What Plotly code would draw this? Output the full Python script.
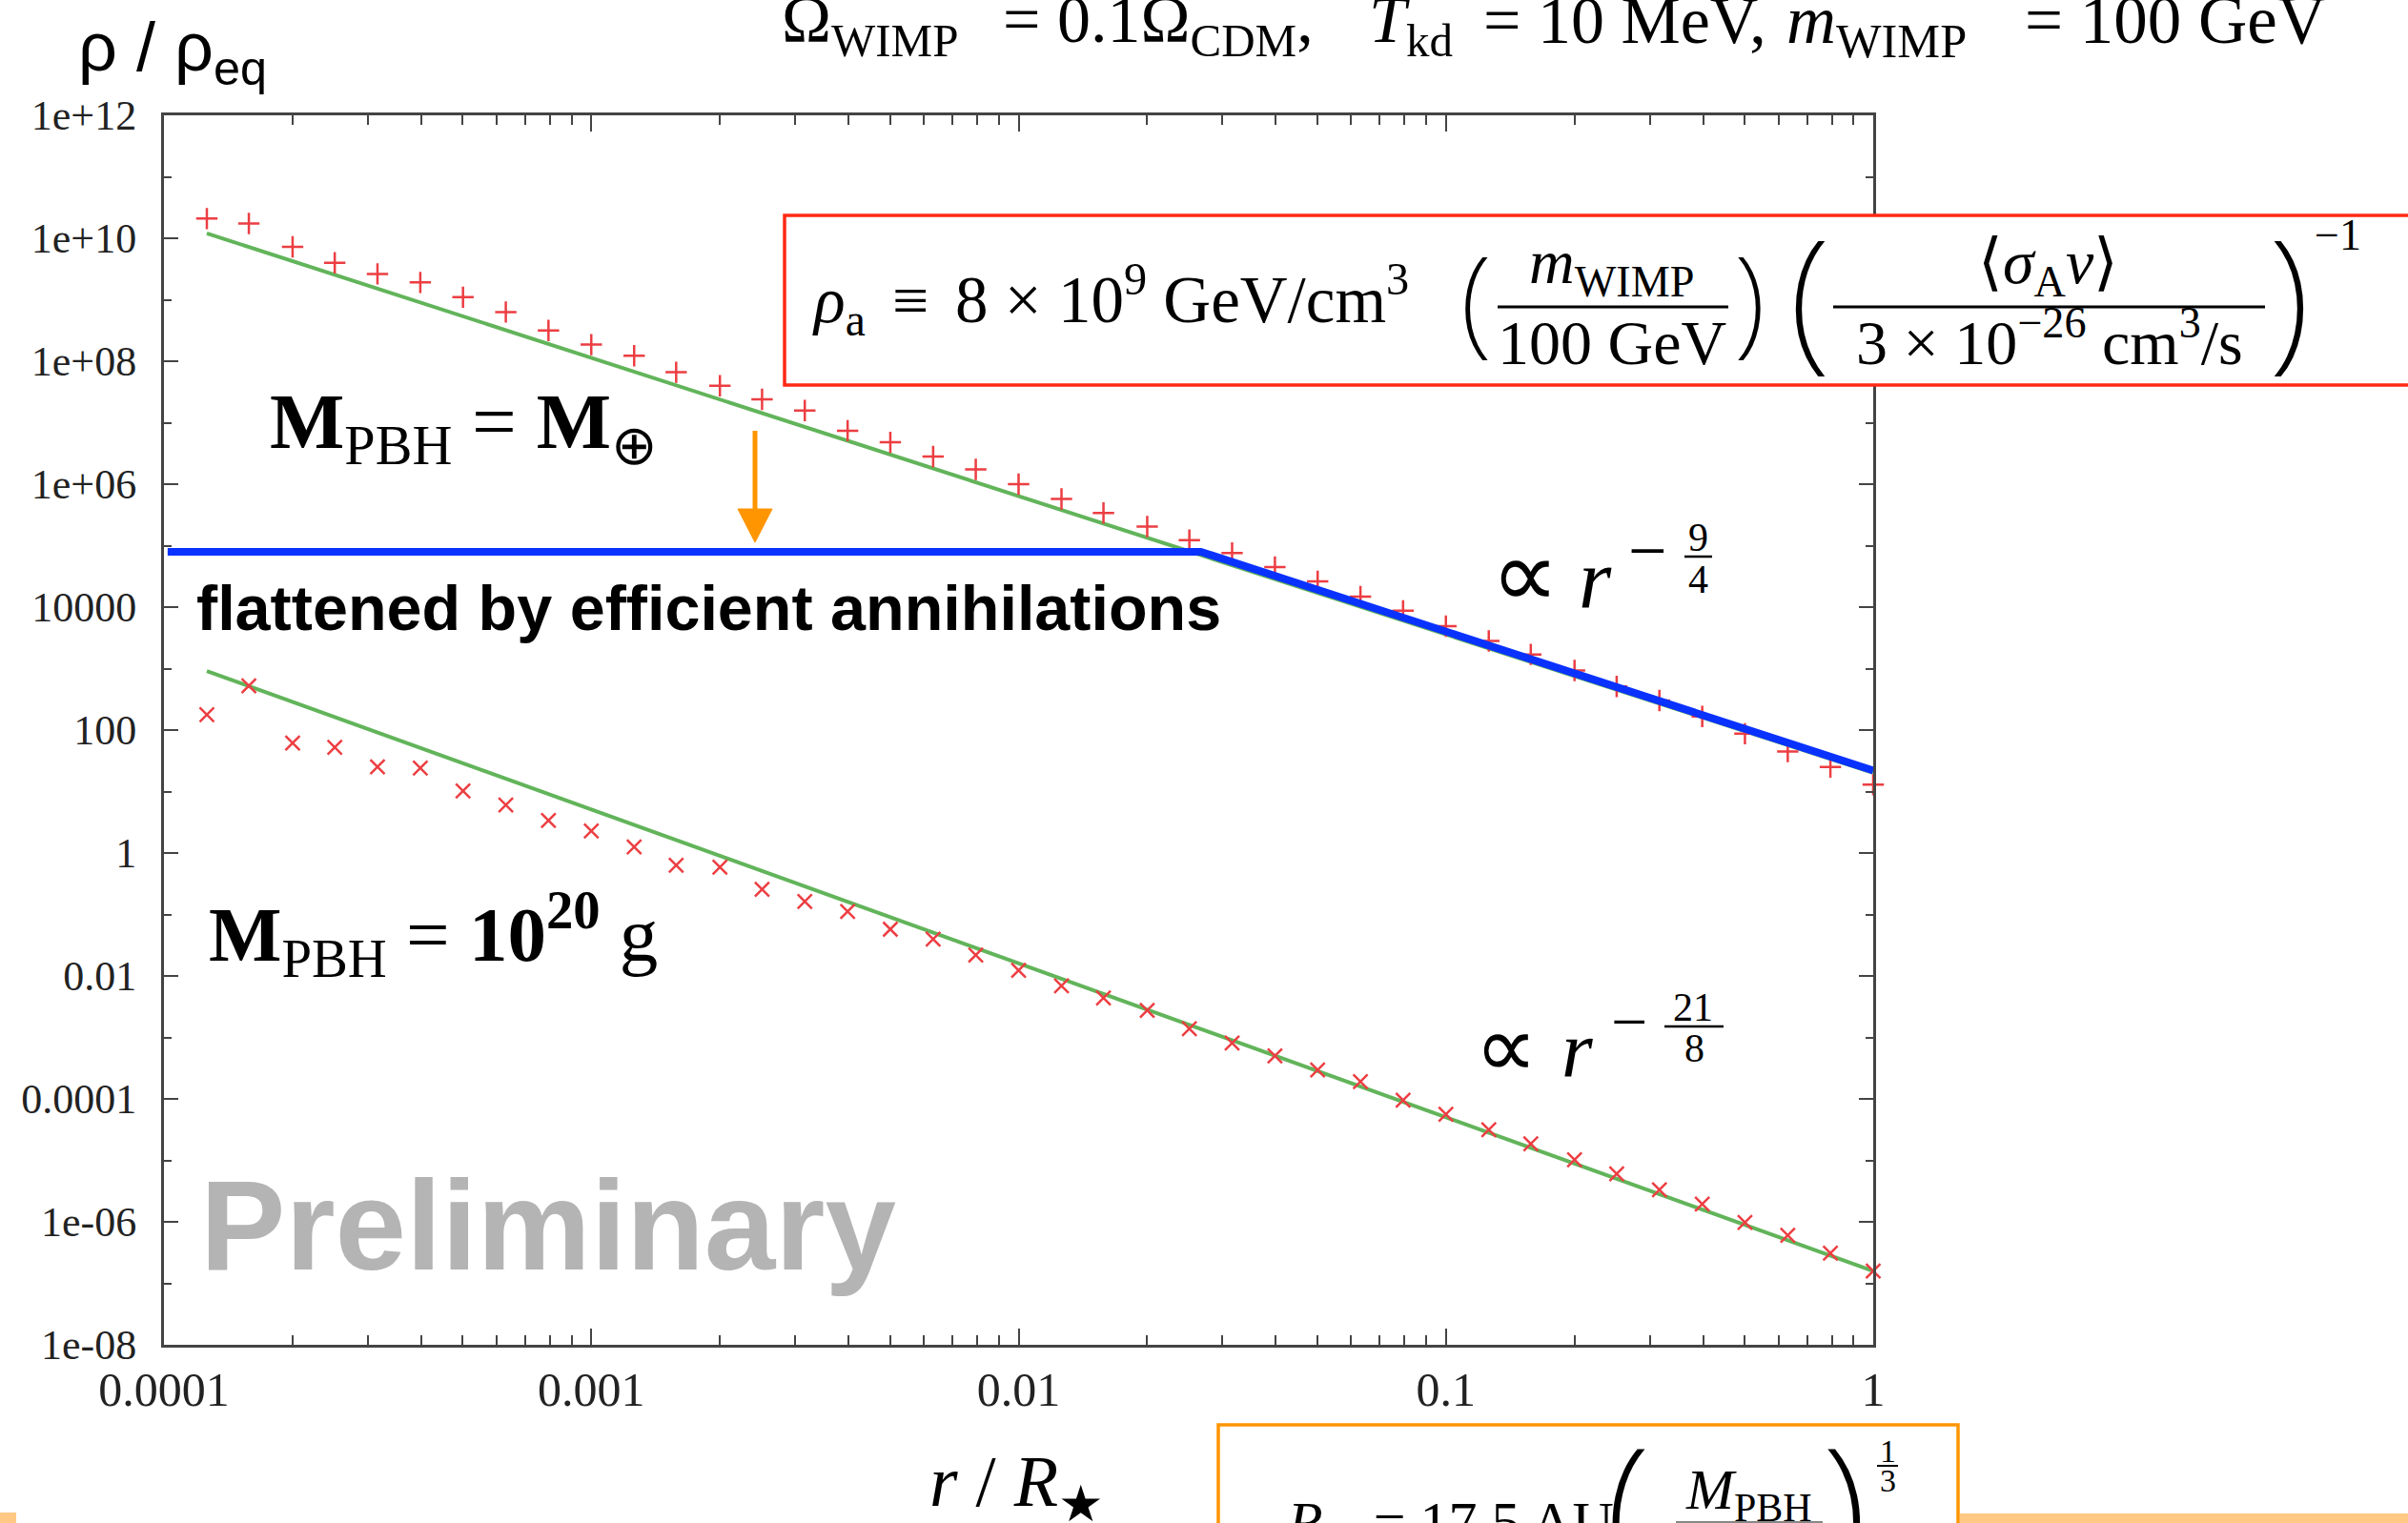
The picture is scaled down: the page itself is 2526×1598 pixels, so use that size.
import plotly.graph_objects as go

# ---------------- data ----------------
r_over_Rstar = [1.26e-4, 1.58e-4, 2.00e-4, 2.51e-4, 3.16e-4, 3.98e-4, 5.01e-4, 6.31e-4, 7.94e-4, 1.00e-3,
                1.26e-3, 1.58e-3, 2.00e-3, 2.51e-3, 3.16e-3, 3.98e-3, 5.01e-3, 6.31e-3, 7.94e-3, 1.00e-2,
                1.26e-2, 1.58e-2, 2.00e-2, 2.51e-2, 3.16e-2, 3.98e-2, 5.01e-2, 6.31e-2, 7.94e-2, 1.00e-1,
                0.126, 0.158, 0.200, 0.251, 0.316, 0.398, 0.501, 0.631, 0.794, 1.00]

# M_PBH = M_earth  ("+" markers)
rho_M_earth = [2.09e10, 1.74e10, 7.24e9, 3.98e9, 2.63e9, 1.91e9, 1.10e9, 6.31e8, 3.16e8, 1.86e8,
               1.23e8, 6.61e7, 3.98e7, 2.40e7, 1.58e7, 7.41e6, 4.79e6, 2.82e6, 1.74e6, 1.00e6,
               5.75e5, 3.39e5, 2.04e5, 1.23e5, 7.59e4, 4.47e4, 2.63e4, 1.48e4, 8.71e3, 4.90e3,
               2.82e3, 1.70e3, 933.0, 513.0, 302.0, 166.0, 87.1, 44.7, 25.1, 12.9]

# M_PBH = 1e20 g  ("x" markers)
rho_1e20g = [178.0, 525.0, 61.7, 52.5, 25.1, 24.0, 10.2, 6.03, 3.39, 2.29,
             1.26, 0.631, 0.589, 0.257, 0.162, 0.112, 0.0575, 0.0398, 0.0219, 0.0123,
             6.92e-3, 4.37e-3, 2.75e-3, 1.38e-3, 8.13e-4, 5.01e-4, 2.95e-4, 1.91e-4, 9.55e-5, 5.62e-5,
             3.16e-5, 1.86e-5, 1.02e-5, 6.03e-6, 3.31e-6, 1.95e-6, 9.77e-7, 6.03e-7, 3.09e-7, 1.58e-7]

# power-law fits (green lines)
fit_r = [1.26e-4, 1.0]
fit_M_earth = [1.20e10, 20.2]
fit_1e20g = [912.0, 1.58e-7]

# flattened profile (blue line)
flat_r = [1.02e-4, 0.0267, 1.0]
flat_rho = [7.94e4, 7.94e4, 21.9]

# axes
x_ticks = [1e-4, 1e-3, 1e-2, 1e-1, 1.0]
x_tick_labels = ["0.0001", "0.001", "0.01", "0.1", "1"]
x_minor = [m * d for d in (1e-4, 1e-3, 1e-2, 1e-1) for m in range(2, 10)]
y_ticks = [1e12, 1e10, 1e8, 1e6, 1e4, 1e2, 1.0, 1e-2, 1e-4, 1e-6, 1e-8]
y_tick_labels = ["1e+12", "1e+10", "1e+08", "1e+06", "10000", "100", "1",
                 "0.01", "0.0001", "1e-06", "1e-08"]
y_minor = [1e11, 1e9, 1e7, 1e5, 1e3, 10.0, 0.1, 1e-3, 1e-5, 1e-7]

# ---------------- styling ----------------
W, H = 2526, 1598
L, R, T, B = 172, 1965, 121, 1411
SERIF = "Liberation Serif"
SANS = "Liberation Sans"
THIN = "Noto Sans"
AX = "#444444"
GREEN = "#62b45a"
RED = "rgb(236,62,66)"
BLUE = "#0a32ff"
ORANGE = "#ff9500"
BOXRED = "#ff2a14"


def PX(x):
    return (x - L) / (R - L)


def PY(y):
    return (B - y) / (B - T)


anns = []
shapes = []


def label(text, x, cy, size, family=SERIF, color="#000", xanchor="left", weight=None):
    font = dict(family=family, size=size, color=color)
    if weight is not None:
        font["weight"] = weight
    anns.append(dict(text=text, x=PX(x), y=PY(cy), xref="paper", yref="paper",
                     showarrow=False, xanchor=xanchor, yanchor="middle",
                     borderpad=0, borderwidth=0, font=font))


def on_base(text, x, base, size, family=SERIF, xanchor="left", sub=False, sup=False,
            color="#000", weight=None):
    asc, desc = (0.891, 0.216) if family == SERIF else (0.905, 0.212)
    top = max(asc, (0.42 + 0.7 * asc) if sup else 0) * size
    bot = max(desc, (0.21 + 0.7 * desc) if sub else 0) * size
    label(text, x, base + (bot - top) / 2, size, family, color, xanchor, weight)


def paren(ch, xc, gc, size):
    # thin parenthesis glyph whose visual centre sits at (xc, gc)
    label(ch, xc, gc - 0.098 * size, size, THIN, "#000", "center", weight=200)


def minus(xc, gc, size):
    label("−", xc, gc - 0.0875 * size, size, SERIF, "#000", "center")


def hline(x0, x1, y, color="#000", width=3):
    shapes.append(dict(type="line", xref="paper", yref="paper", x0=PX(x0), x1=PX(x1),
                       y0=PY(y), y1=PY(y), line=dict(color=color, width=width), layer="above"))


# ---------------- figure ----------------
fig = go.Figure()
fig.add_trace(go.Scatter(x=fit_r, y=fit_M_earth, mode="lines", line=dict(color=GREEN, width=4)))
fig.add_trace(go.Scatter(x=fit_r, y=fit_1e20g, mode="lines", line=dict(color=GREEN, width=4)))
fig.add_trace(go.Scatter(x=r_over_Rstar, y=rho_M_earth, mode="markers", cliponaxis=False,
                         marker=dict(symbol="cross-thin", size=16, line=dict(color=RED, width=2.5))))
fig.add_trace(go.Scatter(x=r_over_Rstar, y=rho_1e20g, mode="markers", cliponaxis=False,
                         marker=dict(symbol="x-thin", size=15, line=dict(color=RED, width=2.5))))
fig.add_trace(go.Scatter(x=flat_r, y=flat_rho, mode="lines", line=dict(color=BLUE, width=8)))

# ---- text annotations ----
# y-axis title
on_base("ρ / ρ<sub>eq</sub>", 82, 74, 72, family=SANS, sub=True)
# x-axis title
on_base("<i>r</i> / <i>R</i><sub>★</sub>", 975, 1580, 76, sub=True)

# top line
on_base("Ω<sub>WIMP</sub>", 820, 45, 70, sub=True)
on_base("= 0.1Ω<sub>CDM</sub>,", 1052, 45, 70, sub=True)
on_base("<i>T</i><sub>kd</sub>", 1436, 45, 70, sub=True)
on_base("= 10 MeV,", 1556, 45, 70)
on_base("<i>m</i><sub>WIMP</sub>", 1874, 45, 72, sub=True)
on_base("= 100 GeV", 2124, 45, 71)

# red formula box
shapes.append(dict(type="rect", xref="paper", yref="paper", x0=PX(823), x1=PX(2600),
                   y0=PY(226), y1=PY(404), line=dict(color=BOXRED, width=3.5),
                   fillcolor="white", layer="above"))
on_base("<i>ρ</i><sub>a</sub>", 852, 338, 68, sub=True)
on_base("≡", 936, 338, 68)
on_base("8 × 10<sup>9</sup> GeV/cm<sup>3</sup>", 1002, 338, 69, sup=True)
paren("(", 1548, 322, 124)
on_base("<i>m</i><sub>WIMP</sub>", 1690, 297, 66, xanchor="center", sub=True)
hline(1571, 1813, 322)
on_base("100 GeV", 1691, 382, 66, xanchor="center")
paren(")", 1835, 322, 124)
paren("(", 1898, 322, 162)
on_base("⟨<i>σ</i><sub>A</sub><i>v</i>⟩", 2148, 297, 66, xanchor="center", sub=True)
hline(1923, 2376, 322)
on_base("3 × 10<sup>−26</sup> cm<sup>3</sup>/s", 2150, 382, 66, xanchor="center", sup=True)
paren(")", 2401, 322, 162)
on_base("−1", 2428, 262, 46)

# M_PBH = M_earth
on_base("<b>M</b><sub>PBH</sub> = <b>M</b><sub>⊕</sub>", 283, 470, 83, sub=True)
# orange arrow
shapes.append(dict(type="line", xref="paper", yref="paper", x0=PX(792), x1=PX(792),
                   y0=PY(452), y1=PY(540), line=dict(color=ORANGE, width=5), layer="above"))
shapes.append(dict(type="path", xref="paper", yref="paper",
                   path=f"M {PX(774)} {PY(534)} L {PX(810)} {PY(534)} L {PX(792)} {PY(569)} Z",
                   fillcolor=ORANGE, line=dict(color=ORANGE, width=1), layer="above"))

# flattened text
on_base("flattened by efficient annihilations", 206, 661, 66.5, family=SANS, weight="bold")

# slope labels
on_base("∝", 1564, 637, 100)
on_base("<i>r</i>", 1656, 637, 88)
minus(1728, 584, 72)
label("9", 1781, 564, 42, xanchor="center")
label("4", 1781, 608, 42, xanchor="center")
hline(1767, 1796, 584, width=2.5)

on_base("∝", 1547, 1130, 92)
on_base("<i>r</i>", 1638, 1130, 84)
minus(1709, 1078, 68)
label("21", 1776, 1057, 42, xanchor="center")
label("8", 1777, 1100, 42, xanchor="center")
hline(1746, 1808, 1077, width=2.5)

# M_PBH = 1e20 g
on_base("<b>M</b><sub>PBH</sub> = <b>10<sup>20</sup></b> g", 219, 1008, 81, sub=True, sup=True)

# Preliminary watermark
on_base("Preliminary", 210, 1332, 134, family=SANS, color="#b4b4b4", weight="bold")

# orange box at the bottom (cut by the page edge)
shapes.append(dict(type="rect", xref="paper", yref="paper", x0=PX(1278), x1=PX(2054),
                   y0=PY(1495), y1=PY(1660), line=dict(color=ORANGE, width=3.5),
                   fillcolor="white", layer="above"))
on_base("<i>R</i><sub>★</sub> = 17.5 AU", 1350, 1617, 60, sub=True)
paren("(", 1708, 1597, 180)
on_base("<i>M</i><sub>PBH</sub>", 1834, 1583, 60, xanchor="center", sub=True)
hline(1758, 1912, 1597, color="#888", width=2)
paren(")", 1935, 1597, 180)
label("1", 1980, 1522, 34, xanchor="center")
hline(1969, 1991, 1538, width=2)
label("3", 1980, 1553, 34, xanchor="center")

# slide footer decorations
shapes.append(dict(type="rect", xref="paper", yref="paper", x0=PX(2056), x1=PX(2530),
                   y0=PY(1588), y1=PY(1602), line=dict(width=0), fillcolor="#ffc985", layer="above"))
shapes.append(dict(type="rect", xref="paper", yref="paper", x0=PX(-5), x1=PX(17),
                   y0=PY(1587), y1=PY(1602), line=dict(width=0), fillcolor="#ffc985", layer="above"))

axis_common = dict(type="log", ticks="inside", tickwidth=2, tickcolor=AX, showline=True,
                   linewidth=3, linecolor=AX, mirror="ticks", showgrid=False, zeroline=False,
                   automargin=False)

fig.update_layout(
    template="none",
    width=W, height=H,
    margin=dict(l=L, r=W - R, t=T, b=H - B, pad=0, autoexpand=False),
    paper_bgcolor="white", plot_bgcolor="white",
    showlegend=False,
    xaxis=dict(range=[-4, 0], tickmode="array", tickvals=x_ticks, ticktext=x_tick_labels,
               ticklen=17, tickfont=dict(family=SERIF, size=50, color="#222"),
               ticklabelstandoff=1,
               minor=dict(tickmode="array", tickvals=x_minor, ticks="inside", ticklen=10,
                          tickwidth=2, tickcolor=AX, showgrid=False),
               **axis_common),
    yaxis=dict(range=[-8, 12], tickmode="array", tickvals=y_ticks, ticktext=y_tick_labels,
               ticklen=15, tickfont=dict(family=SERIF, size=44, color="#222"),
               ticklabelstandoff=17,
               minor=dict(tickmode="array", tickvals=y_minor, ticks="inside", ticklen=8,
                          tickwidth=2, tickcolor=AX, showgrid=False),
               **axis_common),
    annotations=anns,
    shapes=shapes,
)

fig.write_html("out.html", config={"displayModeBar": False})
